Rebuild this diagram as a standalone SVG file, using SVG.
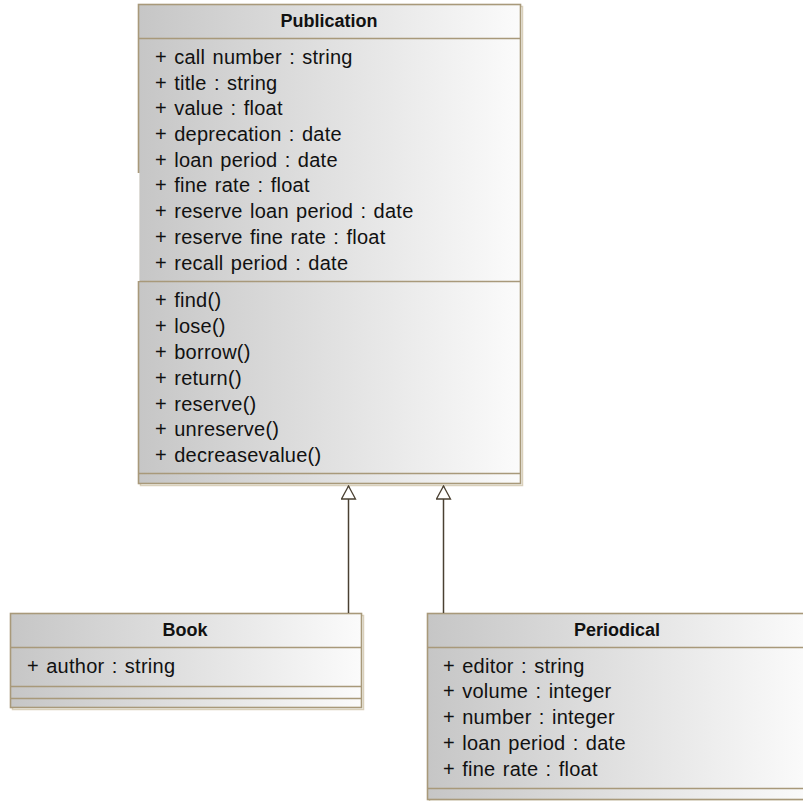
<svg xmlns="http://www.w3.org/2000/svg" width="803" height="801" viewBox="0 0 803 801">
  <defs>
    <linearGradient id="fillGrad" x1="0" y1="0" x2="1" y2="0">
      <stop offset="0" stop-color="#c6c6c6"/>
      <stop offset="1" stop-color="#fbfbfb"/>
    </linearGradient>
    <!-- hollow generalization triangle, apex along +x so orient="auto" points it along the path -->
    <marker id="genArrow" viewBox="0 0 15 16" refX="14" refY="8" markerWidth="15" markerHeight="16" markerUnits="userSpaceOnUse" orient="auto">
      <path d="M14,8 L1,1 L1,15 Z" fill="#ffffff" stroke="#4a4032" stroke-width="1.3"/>
    </marker>
  </defs>
  <style>
    .shadow { fill: none; stroke: #d9d0bb; stroke-width: 1.5; }
    .box { fill: url(#fillGrad); stroke: #a8997a; stroke-width: 1.6; }
    .sep { stroke: #a8997a; stroke-width: 1.6; }
    .name { font-family: "Liberation Sans", Arial, sans-serif; font-weight: bold; font-size: 18px; fill: #111111; text-anchor: middle; }
    .item { font-family: "Liberation Sans", Arial, sans-serif; font-size: 20px; letter-spacing: 0.25px; word-spacing: 1.5px; fill: #111111; }
    .edge { fill: none; stroke: #4a4032; stroke-width: 1.5; }
  </style>
  <rect width="803" height="801" fill="#ffffff"/>

  <!-- Publication class -->
  <g id="publication">
    <rect class="shadow" x="140.5" y="6.5" width="382" height="479"/>
    <rect class="box" x="138.5" y="4.5" width="382" height="479"/>
    <line class="sep" x1="138.5" y1="38.5" x2="520.5" y2="38.5"/>
    <line class="sep" x1="138.5" y1="281.5" x2="520.5" y2="281.5"/>
    <line class="sep" x1="138.5" y1="473.5" x2="520.5" y2="473.5"/>
    <rect x="136" y="173" width="3.5" height="108" fill="#ffffff"/>
    <text class="name" x="329" y="27">Publication</text>
    <text class="item" x="155" y="64">+ call number : string</text>
    <text class="item" x="155" y="90">+ title : string</text>
    <text class="item" x="155" y="115">+ value : float</text>
    <text class="item" x="155" y="141">+ deprecation : date</text>
    <text class="item" x="155" y="167">+ loan period : date</text>
    <text class="item" x="155" y="192">+ fine rate : float</text>
    <text class="item" x="155" y="218">+ reserve loan period : date</text>
    <text class="item" x="155" y="244">+ reserve fine rate : float</text>
    <text class="item" x="155" y="270">+ recall period : date</text>
    <text class="item" x="155" y="307">+ find()</text>
    <text class="item" x="155" y="333">+ lose()</text>
    <text class="item" x="155" y="359">+ borrow()</text>
    <text class="item" x="155" y="385">+ return()</text>
    <text class="item" x="155" y="411">+ reserve()</text>
    <text class="item" x="155" y="436">+ unreserve()</text>
    <text class="item" x="155" y="462">+ decreasevalue()</text>
  </g>

  <!-- Book class -->
  <g id="book">
    <rect class="shadow" x="12.5" y="615.5" width="351" height="94"/>
    <rect class="box" x="10.5" y="613.5" width="351" height="94"/>
    <line class="sep" x1="10.5" y1="647.5" x2="361.5" y2="647.5"/>
    <line class="sep" x1="10.5" y1="686.5" x2="361.5" y2="686.5"/>
    <line class="sep" x1="10.5" y1="698.5" x2="361.5" y2="698.5"/>
    <text class="name" x="185" y="636">Book</text>
    <text class="item" x="27" y="673">+ author : string</text>
  </g>

  <!-- Periodical class -->
  <g id="periodical">
    <rect class="shadow" x="429.5" y="615.5" width="382" height="186"/>
    <rect class="box" x="427.5" y="613.5" width="382" height="186"/>
    <line class="sep" x1="427.5" y1="647.5" x2="809.5" y2="647.5"/>
    <line class="sep" x1="427.5" y1="788.5" x2="809.5" y2="788.5"/>
    <text class="name" x="617" y="636">Periodical</text>
    <text class="item" x="443" y="673">+ editor : string</text>
    <text class="item" x="443" y="698">+ volume : integer</text>
    <text class="item" x="443" y="724">+ number : integer</text>
    <text class="item" x="443" y="750">+ loan period : date</text>
    <text class="item" x="443" y="776">+ fine rate : float</text>
  </g>

  <!-- Generalization connectors -->
  <g id="connectors">
    <path class="edge" d="M348.5,613 L348.5,486" marker-end="url(#genArrow)"/>
    <path class="edge" d="M443.5,613 L443.5,486" marker-end="url(#genArrow)"/>
  </g>
</svg>
